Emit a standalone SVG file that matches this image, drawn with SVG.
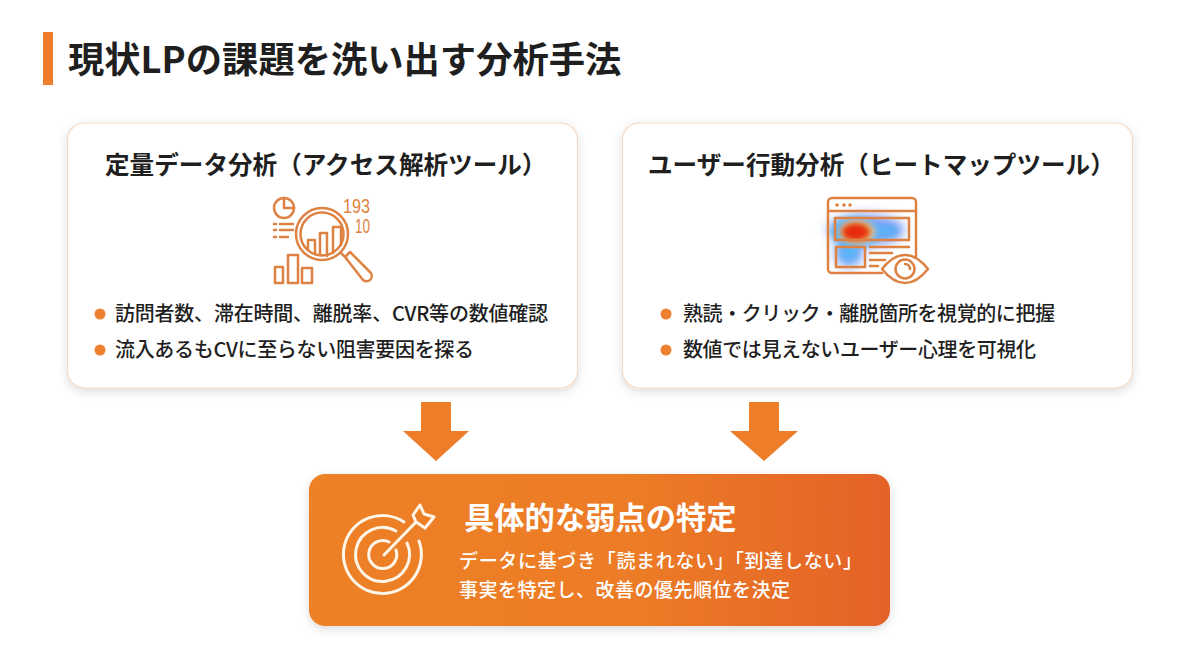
<svg xmlns="http://www.w3.org/2000/svg" width="1200" height="670" viewBox="0 0 1200 670">
<style>
text{font-family:"Noto Sans CJK JP","Noto Sans",sans-serif;fill:#1f1f1f}
.title{font-size:36.300px;font-weight:700}
.ct{font-size:24.600px;font-weight:700}
.b{font-size:20px;font-weight:500}
.card{fill:#fff;stroke:#f6d9c2;stroke-width:1.2;filter:url(#sh)}
.dot{fill:#ee8130}
.ic{fill:none;stroke:#dd8242;stroke-width:2.500;stroke-linejoin:round;stroke-linecap:round}
.num{fill:#dd8242;font-family:"Liberation Sans",sans-serif;font-size:20px;font-weight:400}
.w{fill:none;stroke:#fff6ea;stroke-width:3;stroke-linecap:round;stroke-linejoin:round}
.rt{fill:#fff}
.arrow{fill:#ee7d2a}
</style>
<defs>
<filter id="sh" x="-10%" y="-10%" width="120%" height="125%"><feDropShadow dx="0" dy="3" stdDeviation="5" flood-color="#000" flood-opacity=".14"/></filter>
<filter id="bl8" x="-50%" y="-50%" width="200%" height="200%"><feGaussianBlur stdDeviation="6"/></filter>
<filter id="bl4" x="-50%" y="-50%" width="200%" height="200%"><feGaussianBlur stdDeviation="3"/></filter>
<linearGradient id="g" x1="0" y1="0" x2="1" y2="0"><stop offset="0" stop-color="#ed8126"/><stop offset=".55" stop-color="#ec7c26"/><stop offset="1" stop-color="#e46226"/></linearGradient>
</defs>
<rect width="1200" height="670" fill="#fff"/>
<g id="header">
<rect x="43" y="32" width="10" height="53" fill="#ee7d2a"/>
<text class="title" x="68" y="73">現状LPの課題を洗い出す分析手法</text>
</g>
<g id="card-left">
<rect class="card" x="67.500" y="123" width="510" height="265" rx="17"/>
<text class="ct" x="105" y="174">定量データ分析（アクセス解析ツール）</text>
<g class="ic">
<circle cx="284" cy="208" r="10"/><path d="M284 198v10h10"/>
<path d="M274 224h2M280 224h13M274 230h2M280 230h13M274 237h2M280 237h8"/>
<circle cx="322" cy="234" r="26"/><circle cx="322" cy="234" r="21.500"/>
<path d="M308 250v-10h7v14M320 255v-22h7v23M333 253v-26h8v18"/>
<path d="M341 253l6 6M345 257l5-5 20 20a4 4 0 0 1-7 8z"/>
<path d="M275 283v-16h8v16zM288 283v-28h10v28zM302 283v-15h10v15z"/>
</g>
<text class="num" x="343" y="213" textLength="27" lengthAdjust="spacingAndGlyphs">193</text>
<text class="num" x="355" y="233" textLength="15" lengthAdjust="spacingAndGlyphs">10</text>
<circle class="dot" cx="100" cy="314" r="5.500"/>
<text class="b" x="115" y="321" textLength="433">訪問者数、滞在時間、離脱率、CVR等の数値確認</text>
<circle class="dot" cx="100" cy="350" r="5.500"/>
<text class="b" x="115" y="357" textLength="359">流入あるもCVに至らない阻害要因を探る</text>
</g>
<g id="card-right">
<rect class="card" x="622.500" y="123" width="510" height="265" rx="17"/>
<text class="ct" x="648" y="174">ユーザー行動分析（ヒートマップツール）</text>
<g filter="url(#bl8)">
<ellipse cx="866" cy="230" rx="38" ry="15" fill="#7d96f6"/>
<ellipse cx="849" cy="252" rx="14" ry="15" fill="#7aa0f8"/>
</g>
<g filter="url(#bl4)">
<ellipse cx="856" cy="232" rx="24" ry="15" fill="#3fb8f0"/>
<ellipse cx="885" cy="231" rx="14" ry="7" fill="#5db0f4"/>
<ellipse cx="849" cy="253" rx="9" ry="9" fill="#5cb4f6"/>
<ellipse cx="857" cy="232" rx="17" ry="11" fill="#f1d450"/>
</g>
<ellipse cx="856" cy="232" rx="14" ry="8" fill="#e62a0a" filter="url(#bl4)"/>
<ellipse cx="855" cy="232" rx="9" ry="6" fill="#e62a0a"  filter="url(#bl4)"/>
<g class="ic">
<path d="M882 273h-50a4 4 0 0 1-4-4v-67a4 4 0 0 1 4-4h80a4 4 0 0 1 4 4v54"/>
<path d="M829 211h87"/>
<path d="M837 205h.1M844 205h.1M850 205h.1" stroke-width="3.500"/>
<rect x="835" y="218" width="74" height="22"/>
<rect x="836" y="247" width="29" height="20"/>
<path d="M870 247h39M870 253h22M870 260h15M870 266h8"/>
<path d="M882 269q11-14 23-14t23 14q-11 14-23 14t-23-14z" fill="#fff"/>
<circle cx="905" cy="269" r="9.500"/><path d="M905 264a5 5 0 0 1 5 5"/>
</g>
<circle class="dot" cx="666" cy="314" r="5.500"/>
<text class="b" x="683" y="321" textLength="372">熟読・クリック・離脱箇所を視覚的に把握</text>
<circle class="dot" cx="666" cy="350" r="5.500"/>
<text class="b" x="683" y="357" textLength="353">数値では見えないユーザー心理を可視化</text>
</g>
<g id="connectors">
<path class="arrow" d="M421 402h30v29h18l-33 30-33-30h18z"/>
<path class="arrow" d="M749 402h30v29h19l-34 30-34-30h19z"/>
</g>
<g id="result">
<rect x="309" y="474" width="581" height="152" rx="16" fill="url(#g)" filter="url(#sh)"/>
<g class="w" transform="translate(1 0)">
<path d="M403 522a39 39 0 1 0 15 19"/>
<path d="M395 531a27 27 0 1 0 11 12"/>
<path d="M388 542a14 14 0 1 0 7 8"/>
<path d="M383 555l32-33"/>
<path d="M412 515l7-10 4 9 10 3-9 11-9-6z"/>
</g>
<text class="rt" x="464" y="529" font-size="30.300" font-weight="700">具体的な弱点の特定</text>
<text class="rt" x="459" y="568" font-size="19" font-weight="500" textLength="403">データに基づき「読まれない」「到達しない」</text>
<text class="rt" x="459" y="597" font-size="19" font-weight="500" textLength="331">事実を特定し、改善の優先順位を決定</text>
</g>
</svg>
